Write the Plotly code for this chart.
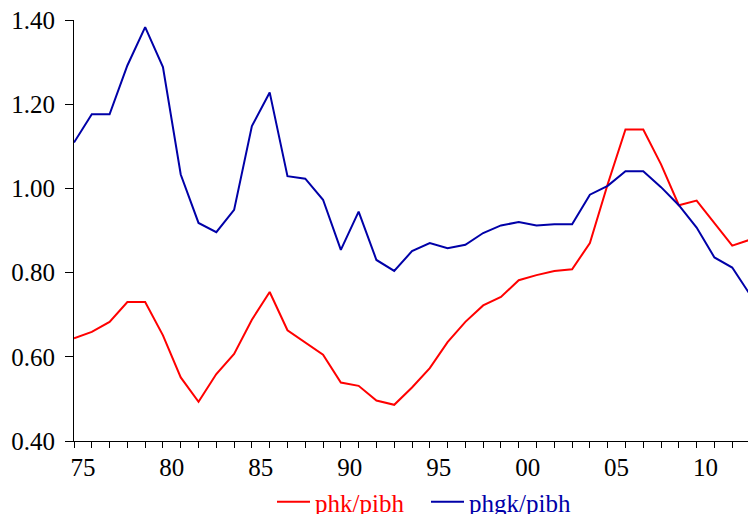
import plotly.graph_objects as go

years = list(range(1975, 2014))
phk_pibh = [0.644, 0.659, 0.683, 0.730, 0.730, 0.651, 0.551, 0.493, 0.559, 0.607,
            0.688, 0.754, 0.663, 0.635, 0.605, 0.539, 0.531, 0.496, 0.486, 0.527,
            0.573, 0.635, 0.683, 0.722, 0.742, 0.782, 0.794, 0.804, 0.808, 0.870,
            1.010, 1.140, 1.140, 1.057, 0.960, 0.971, 0.918, 0.864, 0.878]
phgk_pibh = [1.109, 1.176, 1.176, 1.292, 1.383, 1.288, 1.033, 0.918, 0.896, 0.949,
             1.148, 1.228, 1.029, 1.023, 0.973, 0.854, 0.945, 0.830, 0.804, 0.851,
             0.870, 0.858, 0.866, 0.894, 0.912, 0.920, 0.912, 0.915, 0.915, 0.985,
             1.006, 1.041, 1.041, 1.003, 0.960, 0.907, 0.836, 0.812, 0.748]

x_label_pos = [1975.5, 1980.5, 1985.5, 1990.5, 1995.5, 2000.5, 2005.5, 2010.5]
x_label_text = ["75", "80", "85", "90", "95", "00", "05", "10"]
y_tick_vals = [0.40, 0.60, 0.80, 1.00, 1.20, 1.40]
y_tick_text = ["0.40", "0.60", "0.80", "1.00", "1.20", "1.40"]

RED = "#FF0000"
BLUE = "#0000A8"
FONT = "Liberation Serif"
FS = 25

# the page adds an 8px body margin, so the figure is 8px smaller on each side used
W, H = 748, 506

fig = go.Figure()
fig.add_trace(go.Scatter(x=years, y=phk_pibh, mode="lines",
                         line=dict(color=RED, width=2),
                         name=f"<span style='color:{RED}'>phk/pibh</span>"))
fig.add_trace(go.Scatter(x=years, y=phgk_pibh, mode="lines",
                         line=dict(color=BLUE, width=2),
                         name=f"<span style='color:{BLUE}'>phgk/pibh</span>"))

fig.update_layout(
    width=W, height=H,
    margin=dict(l=66, r=6, t=12, b=73, autoexpand=False),
    paper_bgcolor="white", plot_bgcolor="white",
    font=dict(family=FONT, size=FS, color="black"),
    showlegend=True,
    legend=dict(orientation="h", xref="container", yref="container",
                x=264 / W, xanchor="left", y=(H - 494) / H, yanchor="middle",
                font=dict(family=FONT, size=FS), bgcolor="rgba(0,0,0,0)",
                itemwidth=33, entrywidth=106, entrywidthmode="pixels",
                tracegroupgap=0),
    xaxis=dict(range=[1975, 2013], showgrid=False, zeroline=False, automargin=False,
               showline=True, linecolor="black", linewidth=1,
               tickmode="array", tickvals=x_label_pos, ticktext=x_label_text,
               ticks="", ticklabelstandoff=4, ticklabeloverflow="allow",
               minor=dict(tickmode="array", tickvals=years, ticks="outside",
                          ticklen=6, tickcolor="black", tickwidth=1, showgrid=False)),
    yaxis=dict(range=[0.40, 1.40], showgrid=False, zeroline=False, automargin=False,
               showline=True, linecolor="black", linewidth=1,
               tickmode="array", tickvals=y_tick_vals, ticktext=y_tick_text,
               ticks="outside", ticklen=8, tickcolor="black", tickwidth=1,
               ticklabelstandoff=5, ticklabeloverflow="allow"),
)

fig.write_html("out.html")
